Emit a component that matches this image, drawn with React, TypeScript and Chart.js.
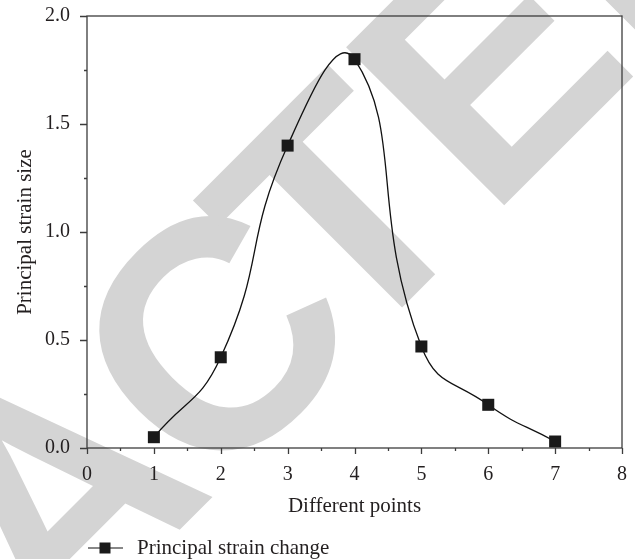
import React, { useEffect, useRef } from "react";
import { Chart, registerables } from "chart.js";

Chart.register(...registerables);

const pointsX = [1, 2, 3, 4, 5, 6, 7];
const strainValues = [0.05, 0.42, 1.4, 1.8, 0.47, 0.2, 0.03];
const xMin = 0;
const xMax = 8;
const yMin = 0;
const yMax = 2;
const seriesLabel = "Principal strain change";
const xTitle = "Different points";
const yTitle = "Principal strain size";
const watermarkText = "RETRACTED";

const SERIF = "'Liberation Serif', 'Times New Roman', serif";
const INK = "#231f20";

const framePlugin = {
  id: "framePlugin",
  beforeDraw(chart: any) {
    const ctx = chart.ctx;
    ctx.save();
    ctx.fillStyle = "#ffffff";
    ctx.fillRect(0, 0, chart.width, chart.height);
    const fs = 325;
    ctx.font = `bold ${fs}px 'Liberation Sans', Arial, sans-serif`;
    const letters = watermarkText.split("");
    const adv = letters.map((l) => ctx.measureText(l).width);
    const pos: number[] = [];
    let acc = 0;
    for (let i = 0; i < letters.length; i++) {
      pos.push(acc);
      acc += adv[i];
    }
    const cIdx = 5;
    const base = pos[cIdx] + adv[cIdx] / 2;
    ctx.translate(232, 330);
    ctx.rotate(-Math.PI / 4);
    ctx.fillStyle = "#d4d4d4";
    ctx.textBaseline = "alphabetic";
    ctx.textAlign = "left";
    for (let i = 0; i < letters.length; i++) {
      const shift = i > cIdx ? -57 : i < cIdx ? -6 : -19;
      const x = pos[i] - base + shift;
      ctx.fillText(letters[i], x, fs * 0.358 - 12);
    }
    ctx.restore();
  },
  afterDraw(chart: any) {
    const ctx = chart.ctx;
    const a = chart.chartArea;
    const xs = chart.scales.x;
    const ys = chart.scales.y;
    ctx.save();
    ctx.strokeStyle = "#3c3c3c";
    ctx.lineWidth = 1.3;
    ctx.strokeRect(a.left, a.top, a.right - a.left, a.bottom - a.top);
    ctx.beginPath();
    for (let v = xMin; v <= xMax + 1e-9; v += 0.5) {
      const px = Math.round(xs.getPixelForValue(v)) + 0.5;
      const len = Math.abs(v - Math.round(v)) < 1e-9 ? 6 : 3;
      ctx.moveTo(px, a.bottom);
      ctx.lineTo(px, a.bottom + len);
    }
    for (let v = yMin; v <= yMax + 1e-9; v += 0.25) {
      const py = Math.round(ys.getPixelForValue(v)) + 0.5;
      const len = Math.abs(v * 2 - Math.round(v * 2)) < 1e-9 ? 7 : 3;
      ctx.moveTo(a.left, py);
      ctx.lineTo(a.left - len, py);
    }
    ctx.stroke();

    // legend
    const ly = 548;
    ctx.strokeStyle = "#111";
    ctx.lineWidth = 1.2;
    ctx.beginPath();
    ctx.moveTo(88, ly);
    ctx.lineTo(123, ly);
    ctx.stroke();
    ctx.fillStyle = "#1a1a1a";
    ctx.fillRect(105 - 5.5, ly - 5.5, 11, 11);
    ctx.fillStyle = INK;
    ctx.font = `21px ${SERIF}`;
    ctx.textBaseline = "middle";
    ctx.textAlign = "left";
    ctx.fillText(chart.data.datasets[0].label, 137, ly);
    ctx.restore();
  },
};

export default function App() {
  const ref = useRef<HTMLCanvasElement | null>(null);
  useEffect(() => {
    document.body.style.margin = "0";
    const canvas = ref.current!;
    const chart = new Chart(canvas, {
      type: "line",
      data: {
        datasets: [
          {
            label: seriesLabel,
            data: pointsX.map((x, i) => ({ x, y: strainValues[i] })),
            borderColor: "#111111",
            borderWidth: 1.3,
            backgroundColor: "#1a1a1a",
            pointStyle: "rect",
            pointRadius: 8.5,
            pointHoverRadius: 8.5,
            pointBackgroundColor: "#1a1a1a",
            pointBorderColor: "#1a1a1a",
            pointBorderWidth: 0,
            tension: 0.5,
            fill: false,
          },
        ],
      },
      options: {
        responsive: false,
        animation: false,
        devicePixelRatio: 1,
        layout: { padding: { top: 16, right: 13, left: 0, bottom: 34 } },
        plugins: {
          legend: { display: false },
          tooltip: { enabled: false },
        },
        scales: {
          x: {
            type: "linear",
            min: xMin,
            max: xMax,
            grid: { display: false, drawTicks: false },
            border: { display: false },
            ticks: {
              stepSize: 1,
              color: INK,
              padding: 15,
              font: { family: SERIF, size: 20 },
              maxRotation: 0,
            },
            title: {
              display: true,
              text: xTitle,
              color: INK,
              font: { family: SERIF, size: 21 },
              padding: 6,
            },
            afterFit(scale: any) {
              scale.height = 77;
              scale.paddingLeft = 0;
              scale.paddingRight = 0;
            },
          },
          y: {
            type: "linear",
            min: yMin,
            max: yMax,
            grid: { display: false, drawTicks: false },
            border: { display: false },
            ticks: {
              stepSize: 0.5,
              color: INK,
              padding: 17,
              font: { family: SERIF, size: 20 },
              callback: (v: any) => Number(v).toFixed(1),
            },
            title: {
              display: true,
              text: yTitle,
              color: INK,
              font: { family: SERIF, size: 21 },
              padding: 13,
            },
            afterFit(scale: any) {
              scale.width = 87;
              scale.paddingTop = 0;
              scale.paddingBottom = 0;
            },
          },
        },
      },
      plugins: [framePlugin],
    });
    return () => chart.destroy();
  }, []);
  return (
    <div style={{ position: "absolute", left: 0, top: 0, width: 635, height: 559 }}>
      <canvas ref={ref} width={635} height={559} style={{ width: 635, height: 559 }} />
    </div>
  );
}
